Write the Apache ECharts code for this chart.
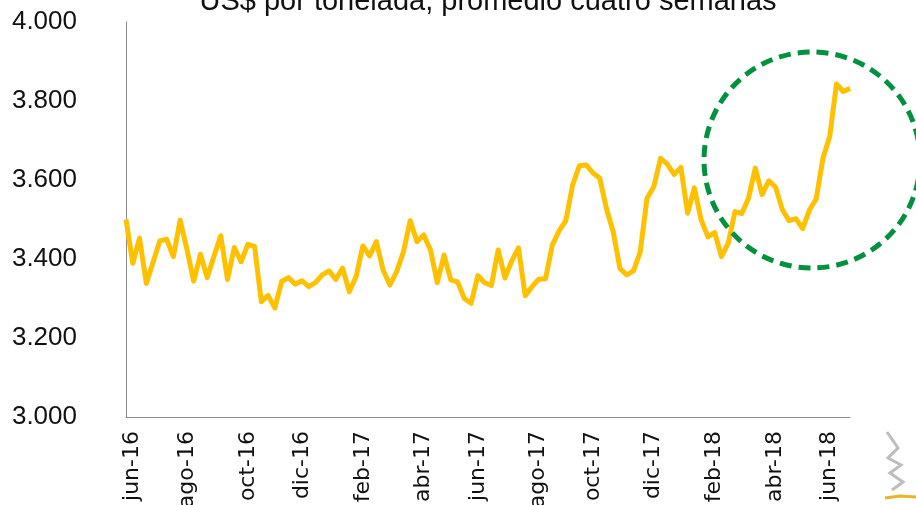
<!DOCTYPE html>
<html>
<head>
<meta charset="utf-8">
<script src="https://cdn.jsdelivr.net/npm/echarts@6/dist/echarts.min.js"></script>
<style>
  html, body { margin: 0; padding: 0; background: #fff; }
  #chart { width: 916px; height: 505px; }
</style>
</head>
<body>
<div id="chart"></div>
<script>
// weekly price, US$ per tonne, four-week average
const prices = [
  3500, 3389, 3453, 3338, 3392, 3446, 3450, 3406, 3498, 3425,
  3344, 3412, 3353, 3407, 3459, 3348, 3429, 3393, 3437, 3432,
  3292, 3308, 3276, 3343, 3353, 3336, 3345, 3330, 3340, 3360,
  3370, 3348, 3377, 3317, 3355, 3433, 3408, 3444, 3372, 3334,
  3368, 3418, 3497, 3444, 3461, 3423, 3340, 3410, 3347, 3342,
  3300, 3288, 3358, 3340, 3333, 3423, 3352, 3395, 3428, 3307,
  3330, 3349, 3350, 3435, 3471, 3497, 3587, 3636, 3638, 3618,
  3605, 3528, 3469, 3376, 3360, 3370, 3418, 3554, 3583, 3655,
  3640, 3614, 3632, 3516, 3580, 3499, 3456, 3467, 3406, 3440,
  3520, 3515, 3554, 3630, 3563, 3598, 3582, 3525, 3497, 3502,
  3477, 3524, 3552, 3655, 3710, 3843, 3824, 3832
]
const tickLabels = ['jun-16', 'ago-16', 'oct-16', 'dic-16', 'feb-17', 'abr-17', 'jun-17',
  'ago-17', 'oct-17', 'dic-17', 'feb-18', 'abr-18', 'jun-18']
const tickIdx = [1, 9, 18, 26, 35, 44, 52, 61, 69, 78, 87, 96, 104]
const startDate = new Date(2016, 4, 28)
const yTicks = [3000, 3200, 3400, 3600, 3800, 4000]

// one category per week
const weeks = []
for (let i = 0; i < prices.length; i++) {
  const d = new Date(startDate.getTime() + i * 7 * 86400000)
  weeks.push(d.toISOString().slice(0, 10))
}

const chart = echarts.init(document.getElementById('chart'), null, { renderer: 'canvas' })

chart.setOption({
  animation: false,
  grid: { left: 126, right: 66, top: 22, bottom: 88, outerBoundsMode: 'none', containLabel: false },
  xAxis: {
    type: 'category',
    data: weeks,
    boundaryGap: false,
    axisLine: { lineStyle: { color: '#8a8a8a', width: 1 } },
    axisTick: { show: false },
    splitLine: { show: false },
    axisLabel: {
      rotate: 90,
      margin: 14,
      color: '#111',
      fontFamily: 'DejaVu Sans',
      fontSize: 22,
      interval: (i) => tickIdx.includes(i),
      formatter: (v, i) => {
        const k = tickIdx.indexOf(i)
        return k >= 0 ? tickLabels[k] : ''
      },
    },
  },
  yAxis: {
    type: 'value',
    min: yTicks[0],
    max: yTicks[yTicks.length - 1],
    interval: 200,
    axisLine: { show: true, lineStyle: { color: '#8a8a8a', width: 1 } },
    axisTick: { show: false },
    splitLine: { show: false },
    axisLabel: {
      margin: 49,
      color: '#111',
      fontFamily: 'Liberation Sans',
      fontSize: 26,
      formatter: (v) => (v / 1000).toFixed(3),
    },
  },
  series: [
    {
      type: 'line',
      data: prices,
      showSymbol: false,
      lineStyle: { color: '#FFC000', width: 5, join: 'round' },
      z: 3,
    },
  ],
  graphic: [
    {
      type: 'text',
      x: 488,
      y: 2,
      style: {
        text: 'US$ por tonelada, promedio cuatro semanas',
        fill: '#111',
        font: '29px "Liberation Sans"',
        textAlign: 'center',
        textVerticalAlign: 'middle',
      },
    },
    {
      type: 'circle',
      shape: { cx: 812, cy: 160, r: 108 },
      style: { fill: 'none', stroke: '#00913F', lineWidth: 5, lineDash: [12, 7] },
      z: 10,
    },
    // bit of the logo peeking in at the bottom right
    {
      type: 'polyline',
      shape: { points: [[887, 432], [898, 448], [888, 458], [901, 465], [890, 473], [903, 482], [892, 490]] },
      style: { stroke: '#bdbdbd', lineWidth: 3, fill: 'none' },
    },
    {
      type: 'polyline',
      shape: { points: [[885, 498], [900, 496], [916, 497]] },
      style: { stroke: '#e8b623', lineWidth: 3, fill: 'none' },
    },
  ],
})
</script>
</body>
</html>
